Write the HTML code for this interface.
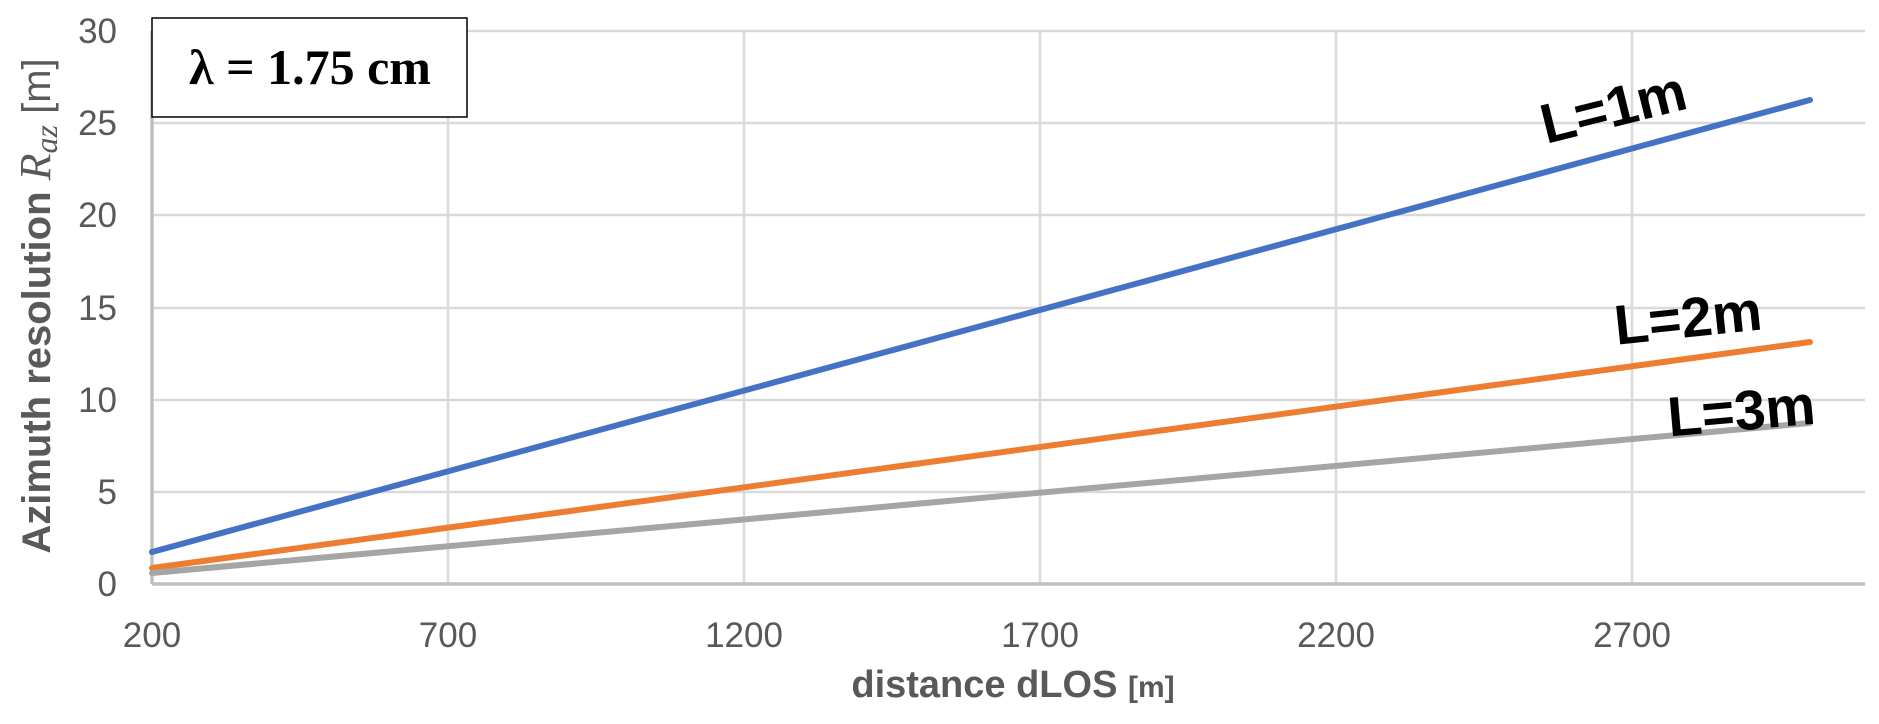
<!DOCTYPE html>
<html><head><meta charset="utf-8"><style>
html,body{margin:0;padding:0;background:#fff;}
</style></head><body>
<svg width="1879" height="719" xmlns="http://www.w3.org/2000/svg" font-family="Liberation Sans, sans-serif">
<rect width="1879" height="719" fill="#fff"/>
<g stroke="#d9d9d9" stroke-width="2.5">
<line x1="152" y1="31" x2="1865" y2="31"/>
<line x1="152" y1="123" x2="1865" y2="123"/>
<line x1="152" y1="215" x2="1865" y2="215"/>
<line x1="152" y1="308" x2="1865" y2="308"/>
<line x1="152" y1="400" x2="1865" y2="400"/>
<line x1="152" y1="492" x2="1865" y2="492"/>
<line x1="448" y1="31" x2="448" y2="584"/>
<line x1="744" y1="31" x2="744" y2="584"/>
<line x1="1040" y1="31" x2="1040" y2="584"/>
<line x1="1336" y1="31" x2="1336" y2="584"/>
<line x1="1632" y1="31" x2="1632" y2="584"/>
</g>
<g stroke="#bfbfbf" stroke-width="3.5">
<line x1="152" y1="584" x2="1865" y2="584"/>
<line x1="152" y1="31" x2="152" y2="584"/>
</g>
<g fill="#595959" font-size="35" text-anchor="end">
<text x="117" y="43">30</text><text x="117" y="135">25</text><text x="117" y="227">20</text>
<text x="117" y="320">15</text><text x="117" y="412">10</text><text x="117" y="504">5</text><text x="117" y="596">0</text>
</g>
<g fill="#595959" font-size="35" text-anchor="middle">
<text x="152" y="647">200</text><text x="448" y="647">700</text><text x="744" y="647">1200</text>
<text x="1040" y="647">1700</text><text x="1336" y="647">2200</text><text x="1632" y="647">2700</text>
</g>
<text x="1013" y="697" fill="#595959" font-size="38" font-weight="bold" text-anchor="middle">distance dLOS <tspan font-size="30">[m]</tspan></text>
<text transform="translate(50,306) rotate(-90)" fill="#595959" font-size="40" font-weight="bold" text-anchor="middle">Azimuth resolution <tspan font-family="Liberation Serif, serif" font-style="italic" font-weight="normal" font-size="44">R</tspan><tspan font-family="Liberation Serif, serif" font-style="italic" font-weight="normal" font-size="32" dy="7">az</tspan><tspan dy="-7" font-weight="normal"> [m]</tspan></text>
<line x1="152" y1="552" x2="1810" y2="100" stroke="#4472C4" stroke-width="6" stroke-linecap="round"/>
<line x1="152" y1="568" x2="1810" y2="342" stroke="#ED7D31" stroke-width="6" stroke-linecap="round"/>
<line x1="152" y1="573" x2="1810" y2="423" stroke="#A5A5A5" stroke-width="6" stroke-linecap="round"/>
<rect x="152" y="18" width="315" height="99" fill="#fff" stroke="#000" stroke-width="1.5"/>
<text x="310" y="84" font-family="Liberation Serif, serif" font-size="50" font-weight="bold" text-anchor="middle">λ = 1.75 cm</text>
<g font-size="56" font-weight="bold" text-anchor="middle" fill="#000">
<text transform="translate(1618,126) rotate(-14)">L=1m</text>
<text transform="translate(1690,337) rotate(-6)">L=2m</text>
<text transform="translate(1743,430) rotate(-5)">L=3m</text>
</g>
</svg>
</body></html>
